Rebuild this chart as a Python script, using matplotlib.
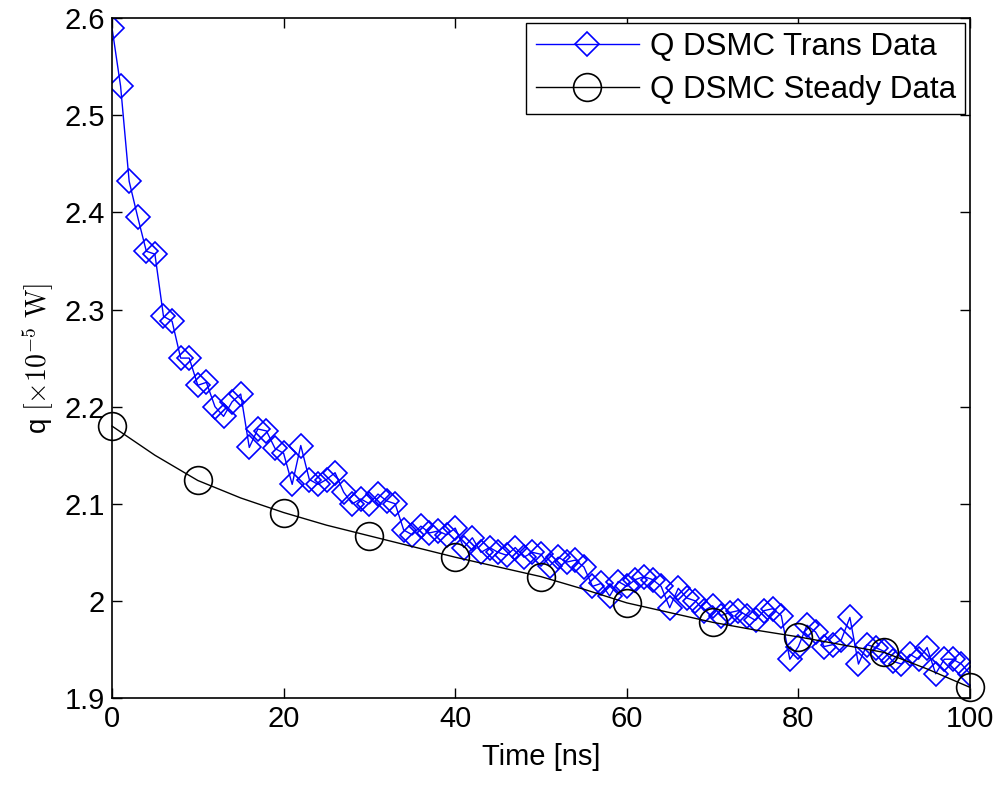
import matplotlib
matplotlib.use("Agg")
import matplotlib.pyplot as plt
import numpy as np

# transient DSMC data, one value per ns
t_trans = np.arange(0, 101)
q_trans = [2.590, 2.530, 2.432, 2.395, 2.360, 2.357, 2.293, 2.288, 2.250, 2.250,
           2.222, 2.225, 2.200, 2.190, 2.205, 2.213, 2.158, 2.177, 2.175, 2.157,
           2.152, 2.120, 2.160, 2.125, 2.120, 2.125, 2.132, 2.112, 2.100, 2.105,
           2.100, 2.110, 2.103, 2.100, 2.073, 2.068, 2.077, 2.070, 2.072, 2.068,
           2.075, 2.055, 2.065, 2.050, 2.055, 2.050, 2.047, 2.055, 2.045, 2.050,
           2.048, 2.036, 2.045, 2.040, 2.042, 2.035, 2.015, 2.018, 2.005, 2.020,
           2.015, 2.022, 2.025, 2.022, 2.015, 1.993, 2.013, 2.003, 2.000, 1.990,
           1.995, 1.985, 1.988, 1.990, 1.985, 1.980, 1.990, 1.992, 1.985, 1.940,
           1.953, 1.975, 1.968, 1.953, 1.955, 1.960, 1.983, 1.935, 1.955, 1.952,
           1.948, 1.938, 1.935, 1.945, 1.940, 1.952, 1.925, 1.940, 1.940, 1.935,
           1.925]

# steady DSMC data (markers every 10 ns)
t_steady = np.arange(0, 101, 5)
q_steady = [2.180, 2.150, 2.124, 2.106, 2.091, 2.078, 2.067, 2.056, 2.045, 2.035,
            2.025, 2.012, 1.998, 1.988, 1.978, 1.970, 1.963, 1.955, 1.947, 1.930,
            1.911]

plt.rcParams['font.family'] = ['Liberation Sans', 'DejaVu Sans']
plt.rcParams['mathtext.fontset'] = 'cm'

fig = plt.figure(figsize=(10, 7.87), dpi=100)
ax = fig.add_axes([0.112, 0.113, 0.858, 0.864])

ax.plot(t_trans, q_trans, color='blue', lw=1, marker='D', ms=12.5,
        mfc='none', mec='blue', mew=1.2, label='Q DSMC Trans Data')
ax.plot(t_steady, q_steady, color='black', lw=1, marker='o', ms=20,
        mfc='none', mec='black', mew=1.2, markevery=2,
        label='Q DSMC Steady Data', clip_on=False)

ax.set_xlim(0, 100)
ax.set_ylim(1.9, 2.6)
ax.set_xticks([0, 20, 40, 60, 80, 100])
ax.set_yticks([1.9, 2.0, 2.1, 2.2, 2.3, 2.4, 2.5, 2.6])
ax.set_yticklabels(['1.9', '2', '2.1', '2.2', '2.3', '2.4', '2.5', '2.6'])
ax.tick_params(direction='in', top=True, right=True, length=7, width=1,
               labelsize=21, pad=5)
for s in ax.spines.values():
    s.set_linewidth(1.2)

ax.set_xlabel('Time [ns]', fontsize=21, labelpad=7)
ax.set_ylabel(r'q $[\times 10^{-5}\ \mathrm{W}]$', fontsize=20, labelpad=6)

leg = ax.legend(loc='upper right', fontsize=22.5, fancybox=False, framealpha=1,
                edgecolor='black', borderaxespad=0.15, handlelength=3.3,
                borderpad=0.3, labelspacing=0.4, handletextpad=0.35)
leg.get_frame().set_linewidth(1)

fig.savefig('out.png', dpi=100)
